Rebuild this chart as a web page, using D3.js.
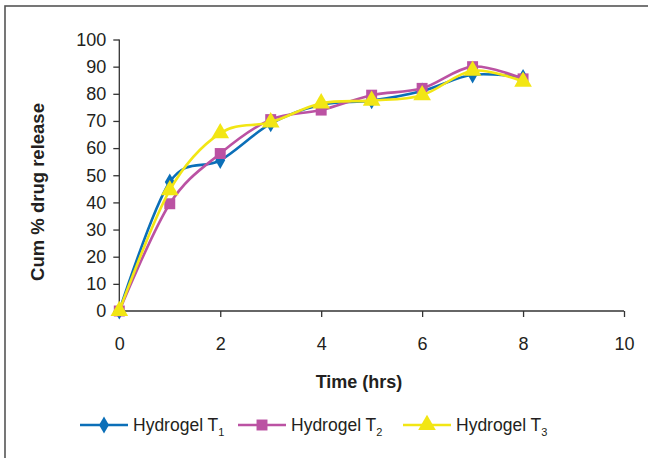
<!DOCTYPE html>
<html>
<head>
<meta charset="utf-8">
<script src="https://cdnjs.cloudflare.com/ajax/libs/d3/7.8.5/d3.min.js"></script>
<style>
  body { margin: 0; background: #fff; }
  svg { display: block; font-family: Arial, "Liberation Sans", sans-serif; }
</style>
</head>
<body>
<svg id="main-svg" width="648" height="458"></svg>
<script>
var hours = [0, 1, 2, 3, 4, 5, 6, 7, 8];
var t1 = [0, 47.5, 55.5, 69, 76, 77.5, 81, 87, 86];
var t2 = [0, 39.5, 58, 70.5, 74, 79.5, 82, 90, 85.5];
var t3 = [0, 44.5, 65.5, 69.5, 76.5, 77.5, 79.5, 88.5, 84.5];
var seriesNames = ['1', '2', '3'];
var xTicks = [0, 2, 4, 6, 8, 10];
var yTicks = [0, 10, 20, 30, 40, 50, 60, 70, 80, 90, 100];

var svg = d3.select('#main-svg');

// frame (only top and left edges are in view)
svg.append('rect')
    .attr('x', 5).attr('y', 6)
    .attr('width', 700).attr('height', 500)
    .attr('fill', 'none')
    .attr('stroke', '#555').attr('stroke-width', 1.6);

var x = d3.scaleLinear().domain([0, 10]).range([119.3, 624]);
var y = d3.scaleLinear().domain([0, 100]).range([311, 39.5]);

var axisColor = '#333';
var textColor = '#231f20';
var fs = 18;

var gy = svg.append('g')
    .attr('transform', 'translate(119.3,0)')
    .call(d3.axisLeft(y).tickValues(yTicks).tickSize(6).tickPadding(7));
var gx = svg.append('g')
    .attr('transform', 'translate(0,311)')
    .call(d3.axisBottom(x).tickValues(xTicks).tickSize(6).tickPadding(20));

[gx, gy].forEach(function(g) {
    g.select('.domain').attr('stroke', axisColor).attr('stroke-width', 1.3);
    g.selectAll('.tick line').attr('stroke', axisColor).attr('stroke-width', 1.3);
    g.selectAll('.tick text').attr('fill', textColor).attr('font-size', fs);
});
gy.select('.domain').attr('d', 'M0,311V39.5');
gx.select('.domain').attr('d', 'M119.3,0H624');

svg.append('text')
    .attr('transform', 'translate(44,192) rotate(-90)')
    .attr('text-anchor', 'middle')
    .attr('font-size', 18.5).attr('font-weight', 'bold')
    .attr('fill', textColor)
    .text('Cum % drug release');

svg.append('text')
    .attr('x', 359).attr('y', 388)
    .attr('text-anchor', 'middle')
    .attr('font-size', 18).attr('font-weight', 'bold')
    .attr('fill', textColor)
    .text('Time (hrs)');

var series = [
    {name: seriesNames[0], values: t1, color: '#0b6fb8', shape: d3.symbolDiamond, size: 85},
    {name: seriesNames[1], values: t2, color: '#bb52a3', shape: d3.symbolSquare, size: 120},
    {name: seriesNames[2], values: t3, color: '#f2e614', shape: d3.symbolTriangle, size: 135}
];

var line = d3.line()
    .x(function(d) { return x(d[0]); })
    .y(function(d) { return y(d[1]); })
    .curve(d3.curveCatmullRom.alpha(0));

series.forEach(function(s) {
    var pts = hours.map(function(h, i) { return [h, s.values[i]]; });
    svg.append('path')
        .attr('d', line(pts))
        .attr('fill', 'none')
        .attr('stroke', s.color)
        .attr('stroke-width', 2.6);
    svg.selectAll(null).data(pts).enter().append('path')
        .attr('transform', function(d) { return 'translate(' + x(d[0]) + ',' + y(d[1]) + ')'; })
        .attr('d', d3.symbol().type(s.shape).size(s.size))
        .attr('fill', s.color);
});

// legend
var legX = [80, 238, 403];
series.forEach(function(s, i) {
    var g = svg.append('g').attr('transform', 'translate(' + legX[i] + ',425)');
    g.append('line')
        .attr('x1', 0).attr('x2', 48)
        .attr('stroke', s.color).attr('stroke-width', 2.6);
    g.append('path')
        .attr('transform', 'translate(24,0)')
        .attr('d', d3.symbol().type(s.shape).size(s.size))
        .attr('fill', s.color);
    var t = g.append('text')
        .attr('x', 53).attr('y', 6)
        .attr('font-size', 17.5).attr('fill', textColor);
    t.append('tspan').text('Hydrogel T');
    t.append('tspan').attr('font-size', 11).attr('dy', 5).text(s.name);
});
</script>
</body>
</html>
